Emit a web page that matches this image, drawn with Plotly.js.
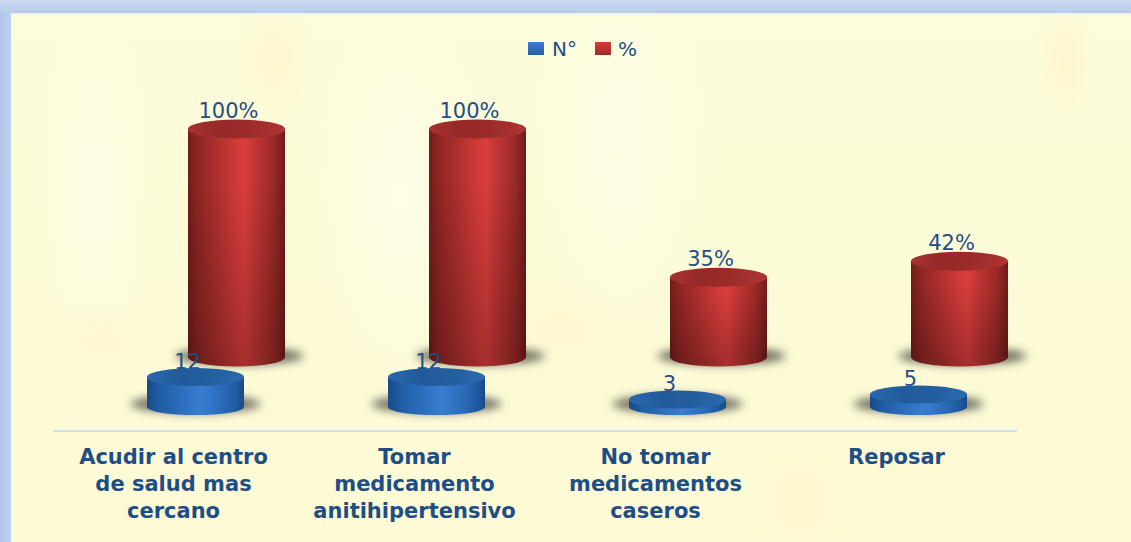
<!DOCTYPE html>
<html><head><meta charset="utf-8">
<script src="https://cdn.plot.ly/plotly-3.0.1.min.js"></script>
<style>
html,body{margin:0;padding:0;width:1131px;height:542px;overflow:hidden}
body{background:
 linear-gradient(#eaf1f8,#eaf1f8) 11px 13px/100% 1.5px no-repeat,
 linear-gradient(#cbdaf0,#b6cceb) 0 0/100% 13px no-repeat,
 linear-gradient(90deg,#afc6e9,#bcd1ef) 0 0/11px 100% no-repeat,
 radial-gradient(ellipse 40px 70px at 275px 60px,rgba(250,226,170,.22),rgba(250,226,170,0)),
 radial-gradient(ellipse 30px 60px at 1065px 60px,rgba(250,222,165,.22),rgba(250,222,165,0)),
 radial-gradient(ellipse 60px 40px at 100px 340px,rgba(250,230,175,.2),rgba(250,230,175,0)),
 radial-gradient(ellipse 50px 60px at 800px 500px,rgba(250,230,175,.22),rgba(250,230,175,0)),
 radial-gradient(ellipse 70px 40px at 560px 330px,rgba(250,230,175,.2),rgba(250,230,175,0)),
 radial-gradient(ellipse 90px 200px at 400px 200px,rgba(255,255,240,.55),rgba(255,255,240,0)),
 radial-gradient(ellipse 90px 200px at 620px 150px,rgba(255,255,240,.5),rgba(255,255,240,0)),
 radial-gradient(ellipse 60px 200px at 95px 200px,rgba(255,255,240,.5),rgba(255,255,240,0)),
 linear-gradient(rgba(255,252,215,.0),rgba(253,248,200,.35)) 0 0,
 #fdfcdb;}
#chart{width:1131px;height:542px}
</style></head><body><div id="chart"></div>
<script>
const categories = ["Acudir al centro<br>de salud mas<br>cercano","Tomar<br>medicamento<br>anitihipertensivo","No tomar<br>medicamentos<br>caseros","Reposar"];
const countValues = [12,12,3,5];
const percentValues = [100,100,35,42];
const percentLabels = ["100%","100%","35%","42%"];
const countLabels = ["12","12","3","5"];
const idx = categories.map((_,i)=>i);

const textColor = "#1f4e87";
const catPx = 241, plotL = 53, plotR = 1017, axisPx = 430;
const W = 97/catPx, offBlue = -26.5/catPx, offRed = 14.5/catPx;
const cBlue = offBlue+W/2, cRed = offRed+W/2, labelShift = 8/catPx;

// blue cylinders: 2.5 px per unit with base at 407; red: 2.28 px per unit with base at 357
const bluePx = 2.5, redPx = 2.28, blueBasePx = 407, redBasePx = 357;
const blueRange = [-(axisPx-blueBasePx)/bluePx, blueBasePx/bluePx];
const redRange = [-(axisPx-redBasePx)/redPx, redBasePx/redPx];
// the count labels sit on the red axis so that they draw over the red cylinders
const countOnRedAxis = v => (v*bluePx + 3 - (blueBasePx-redBasePx))/redPx;

const ell = (x,y,yref,rx,ry,dy,color,layer,name,dx=0)=>({type:"circle",xref:"x",yref,xsizemode:"pixel",ysizemode:"pixel",
  xanchor:x,yanchor:y,x0:-rx+dx,x1:rx+dx,y0:-ry+dy,y1:ry+dy,fillcolor:color,line:{width:0},layer,name});
const shapes=[];
idx.forEach(i=>{
  shapes.push(ell(i+cRed,0,"y2",64,9,1,"#55554a","below","shadow",3));
  shapes.push(ell(i+cBlue,0,"y",65,9,3,"#55554a","below","shadow",0));
});
idx.forEach(i=>{
  shapes.push(ell(i+cRed,0,"y2",48.5,9.5,0,"#8a2422","below","redBase"));
  shapes.push(ell(i+cBlue,0,"y",48.5,8,0,"#1f5ca3","below","blueBase"));
  shapes.push(ell(i+cRed,percentValues[i],"y2",48.5,9.5,0,"#9c2c2a","above","redCap"));
  shapes.push(ell(i+cBlue,countValues[i],"y",48.5,9,0,"#2660a4","above","blueCap"));
});

const data=[
 {type:"bar",name:"N°",x:idx,y:countValues,yaxis:"y",width:W,offset:offBlue,marker:{color:"#2e6fbe",line:{width:0}}},
 {type:"bar",name:"%",x:idx,y:percentValues,yaxis:"y2",width:W,offset:offRed,marker:{color:"#c43533",line:{width:0}}},
 {type:"scatter",mode:"text",x:idx.map(i=>i+cRed-labelShift),y:percentValues.map(v=>v+6/redPx),yaxis:"y2",text:percentLabels,textposition:"top center",
  textfont:{family:"DejaVu Sans",size:21,color:textColor},showlegend:false,cliponaxis:false},
 {type:"scatter",mode:"text",x:idx.map(i=>i+cBlue-labelShift),y:countValues.map(countOnRedAxis),yaxis:"y2",text:countLabels,textposition:"top center",
  textfont:{family:"DejaVu Sans",size:21,color:textColor},showlegend:false,cliponaxis:false}
];
const layout={
 width:1131,height:542,margin:{l:plotL,r:1131-plotR,t:0,b:542-axisPx,pad:0},
 paper_bgcolor:"rgba(0,0,0,0)",plot_bgcolor:"rgba(0,0,0,0)",
 barmode:"overlay",hovermode:false,
 xaxis:{type:"linear",range:[-0.5,3.5],tickmode:"array",tickvals:idx,ticktext:categories,showgrid:false,zeroline:false,
   showline:true,linecolor:"#d5dff0",linewidth:2,ticks:"",tickangle:0,automargin:false,ticklabelstandoff:7,
   tickfont:{family:"DejaVu Sans",size:21,color:textColor,weight:700}},
 yaxis:{range:blueRange,visible:false,fixedrange:true},
 yaxis2:{range:redRange,visible:false,overlaying:"y",fixedrange:true},
 showlegend:true,
 legend:{orientation:"h",x:(516-plotL)/(plotR-plotL),xanchor:"left",y:(axisPx-29)/axisPx,yanchor:"top",
   font:{family:"DejaVu Sans",size:20,color:textColor},bgcolor:"rgba(0,0,0,0)",itemwidth:30,traceorder:"normal"},
 shapes
};
Plotly.newPlot("chart",data,layout,{displayModeBar:false,staticPlot:true}).then(gd=>{
  const svg=gd.querySelector("svg.main-svg");
  const NS="http://www.w3.org/2000/svg";
  const defs=document.createElementNS(NS,"defs");
  const hg=(id,stops)=>`<linearGradient id="${id}" x1="0" x2="1" y1="0" y2="0">`+stops.map(s=>`<stop offset="${s[0]}" stop-color="${s[1]}"/>`).join("")+`</linearGradient>`;
  const redS=[[0,"#701c1c"],[.1,"#8e2524"],[.3,"#ae302e"],[.5,"#d03a38"],[.58,"#da3e3b"],[.7,"#c03533"],[.88,"#9a2a28"],[1,"#701b1a"]];
  const blueS=[[0,"#174a86"],[.12,"#1f5ca3"],[.32,"#2a6bb8"],[.55,"#3a7dd0"],[.75,"#2c6dbb"],[.92,"#1f5a9f"],[1,"#174a86"]];
  defs.innerHTML=hg("gRed",redS)+hg("gBlue",blueS)+
   hg("gRedBase",[[0,"#5a1616"],[.12,"#741e1d"],[.35,"#8a2625"],[.58,"#a83130"],[.78,"#8c2725"],[.93,"#701c1b"],[1,"#591515"]])+
   hg("gRedCap",[[0,"#a83230"],[.3,"#962a28"],[.6,"#9a2b29"],[1,"#ad3431"]])+
   hg("gBlueCap",[[0,"#2a68ad"],[.35,"#215a9a"],[.7,"#245f9f"],[1,"#2c6ab0"]])+
   `<linearGradient id="gRedV" x1="0" x2="0" y1="0" y2="1"><stop offset=".2" stop-color="#000" stop-opacity="0"/><stop offset="1" stop-color="#000" stop-opacity=".22"/></linearGradient>`+
   `<linearGradient id="gL1" x1="0" x2="0" y1="0" y2="1"><stop offset="0" stop-color="#3c7ed0"/><stop offset="1" stop-color="#245ea6"/></linearGradient>`+
   `<linearGradient id="gL2" x1="0" x2="0" y1="0" y2="1"><stop offset="0" stop-color="#d63c3a"/><stop offset="1" stop-color="#a02a28"/></linearGradient>`+
   `<pattern id="pRed" width="1" height="1" patternContentUnits="objectBoundingBox"><rect width="1" height="1" fill="url(#gRed)"/><rect width="1" height="1" fill="url(#gRedV)"/></pattern>`+
   `<filter id="blur" x="-30%" y="-100%" width="160%" height="300%"><feGaussianBlur stdDeviation="5"/></filter>`;
  svg.insertBefore(defs,svg.firstChild);
  gd.querySelectorAll(".barlayer .trace").forEach(t=>{
    const isBlue=t.querySelector(".point path").style.fill.indexOf("46, 111")>=0;
    t.querySelectorAll(".point path").forEach(p=>p.style.fill=isBlue?"url(#gBlue)":"url(#pRed)");
  });
  const map={redBase:"url(#gRedBase)",blueBase:"url(#gBlue)",redCap:"url(#gRedCap)",blueCap:"url(#gBlueCap)"};
  gd.querySelectorAll(".shapelayer path[data-index]").forEach(p=>{
    const s=layout.shapes[+p.getAttribute("data-index")];
    p.removeAttribute("clip-path");
    if(p.parentNode)p.parentNode.removeAttribute("clip-path");
    if(s.name==="shadow"){p.style.filter="url(#blur)";p.style.opacity=.85;}
    else p.style.fill=map[s.name];
  });
  gd.querySelectorAll(".legend .legendpoints path").forEach((p,i)=>{
    p.setAttribute("d","M8,6.5H-8V-6.5H8Z");
    p.style.fill=i===0?"url(#gL1)":"url(#gL2)";
  });
  gd.querySelectorAll(".legend .legendtext").forEach((t,i)=>{
    t.setAttribute("x",+t.getAttribute("x")-(i===0?4:5));
  });
  const lt=gd.querySelectorAll(".legend .traces");
  if(lt[1]){const m=/translate\(([-\d.]+),\s*([-\d.]+)\)/.exec(lt[1].getAttribute("transform"));
    if(m)lt[1].setAttribute("transform",`translate(${+m[1]-3},${m[2]})`);}
  gd.querySelectorAll(".xtick text").forEach(t=>{
    t.querySelectorAll("tspan.line").forEach((l,i)=>l.setAttribute("dy",(27*i)+"px"));
  });
});
</script></body></html>
